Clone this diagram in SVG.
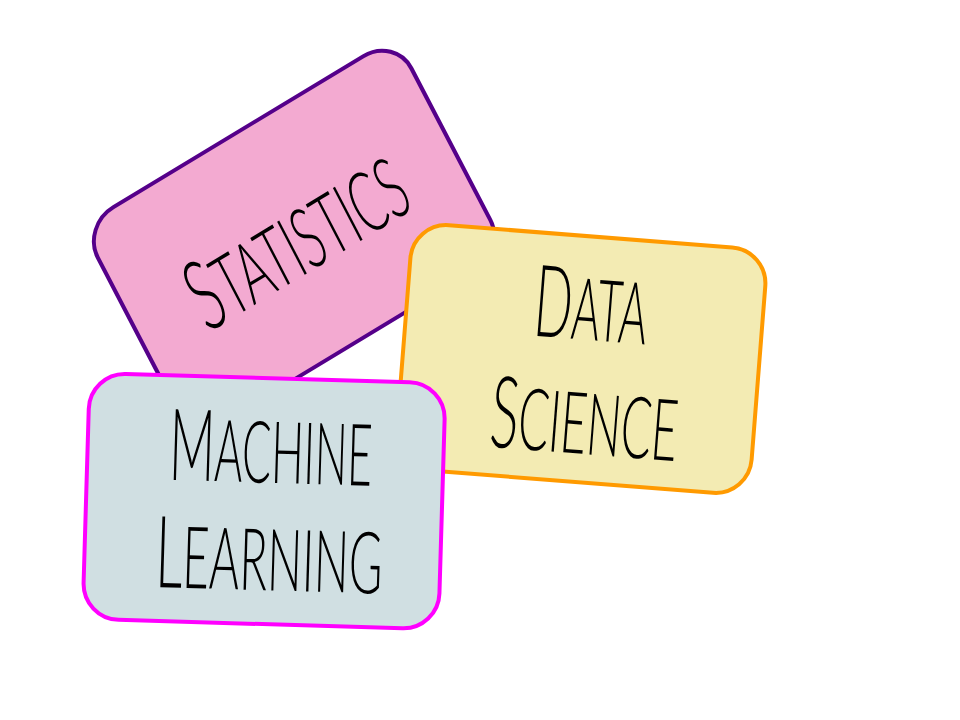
<svg xmlns="http://www.w3.org/2000/svg" width="960" height="720" viewBox="0 0 960 720">
  <style>
    .card { stroke-width: 4; }
    .label { font-family: Lato, "Liberation Sans", sans-serif; font-weight: 300; font-size: 100px; fill: #000000; }
    .sc { font-size: 86px; text-transform: uppercase; }
  </style>
  <rect x="0" y="0" width="960" height="720" fill="#ffffff"/>
  <g id="statistics" transform="matrix(0.8806 -0.532 0.4532 0.8704 294.05 238.75)">
    <rect class="card" x="-178" y="-123" width="356" height="246" rx="36" ry="36" fill="#F3AAD1" stroke="#55008A"/>
    <text class="label" x="-117" y="37" textLength="236" lengthAdjust="spacingAndGlyphs">S<tspan class="sc">tatistics</tspan></text>
  </g>
  <g id="data-science" transform="translate(581 359) rotate(4.5)">
    <rect class="card" x="-178" y="-123" width="356" height="246" rx="36" ry="36" fill="#F3EBB3" stroke="#FF9A00"/>
    <text class="label" x="-50.4" y="-19.5" textLength="113" lengthAdjust="spacingAndGlyphs">D<tspan class="sc">ata</tspan></text>
    <text class="label" x="-85.7" y="94.6" textLength="188" lengthAdjust="spacingAndGlyphs">S<tspan class="sc">cience</tspan></text>
  </g>
  <g id="machine-learning" transform="translate(264.1 501.1) rotate(1.7)">
    <rect class="card" x="-178" y="-123" width="356" height="246" rx="36" ry="36" fill="#D0DFE2" stroke="#FF00FF"/>
    <text class="label" x="-96.2" y="-18.5" textLength="203" lengthAdjust="spacingAndGlyphs">M<tspan class="sc">achine</tspan></text>
    <text class="label" x="-106.7" y="89" textLength="227" lengthAdjust="spacingAndGlyphs">L<tspan class="sc">earning</tspan></text>
  </g>
  <g id="connectors"/>
</svg>
